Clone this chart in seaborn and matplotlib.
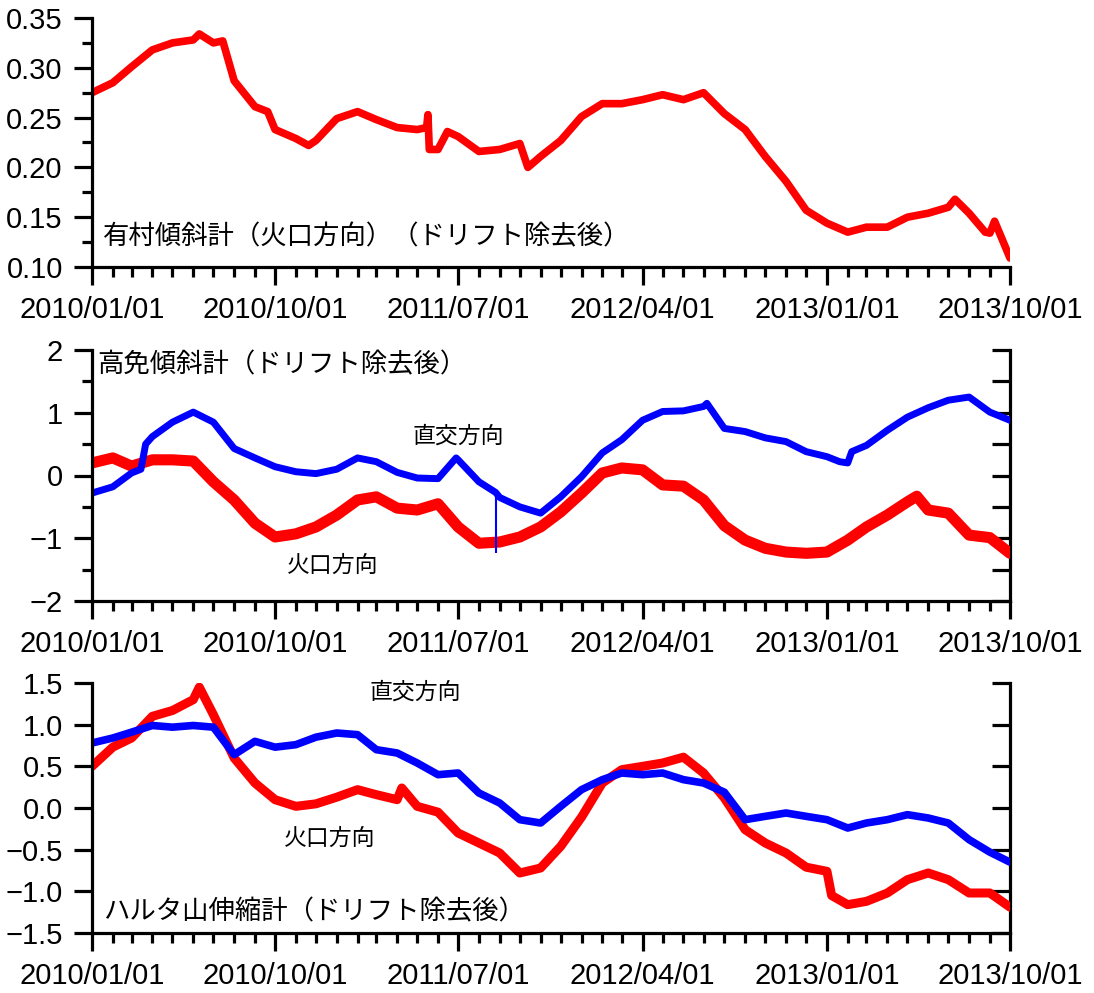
import pandas as pd
import matplotlib
matplotlib.use("Agg")
import matplotlib.pyplot as plt
import matplotlib.dates as mdates
from matplotlib.ticker import FixedLocator, NullFormatter
import seaborn as sns

# =========================
# Data (first of each month)
# =========================
months = pd.date_range("2010-01-01", "2013-10-01", freq="MS")

arimura = [0.275, 0.285, 0.301, 0.318, 0.325, 0.328, 0.325, 0.287, 0.261, 0.238,
           0.229, 0.227, 0.249, 0.256, 0.248, 0.240, 0.238, 0.218, 0.231, 0.216,
           0.218, 0.224, 0.211, 0.227, 0.251, 0.264, 0.264, 0.268, 0.273, 0.268,
           0.275, 0.254, 0.238, 0.211, 0.186, 0.157, 0.144, 0.135, 0.140, 0.140,
           0.150, 0.154, 0.160, 0.154, 0.134, 0.109]
arimura_extra_dates = ["2010-06-10", "2010-07-15", "2010-09-20", "2010-11-20", "2011-05-15",
                       "2011-05-17", "2011-05-19", "2011-06-15", "2011-10-13", "2013-07-11",
                       "2013-08-25", "2013-09-08"]
arimura_extra = [0.334, 0.327, 0.256, 0.222, 0.240, 0.253, 0.218, 0.236, 0.200, 0.168,
                 0.135, 0.146]

kome_crater = [0.20, 0.28, 0.15, 0.25, 0.25, 0.23, -0.10, -0.39, -0.76, -0.98,
               -0.93, -0.82, -0.63, -0.39, -0.34, -0.52, -0.55, -0.45, -0.82, -1.08,
               -1.06, -0.98, -0.82, -0.58, -0.28, 0.04, 0.12, 0.09, -0.15, -0.17,
               -0.39, -0.80, -1.03, -1.16, -1.22, -1.24, -1.22, -1.03, -0.82, -0.63,
               -0.42, -0.55, -0.60, -0.95, -0.99, -1.24]
kome_crater_extra_dates = ["2013-05-15"]
kome_crater_extra = [-0.33]

kome_perp = [-0.28, -0.18, 0.04, 0.62, 0.85, 1.01, 0.85, 0.43, 0.28, 0.14,
             0.06, 0.03, 0.10, 0.28, 0.22, 0.05, -0.04, -0.05, 0.25, -0.10,
             -0.35, -0.50, -0.60, -0.34, -0.02, 0.36, 0.57, 0.88, 1.02, 1.03,
             1.10, 0.75, 0.70, 0.60, 0.54, 0.38, 0.30, 0.20, 0.48, 0.72,
             0.93, 1.08, 1.20, 1.25, 1.01, 0.88]
kome_perp_extra_dates = ["2010-03-15", "2010-03-22", "2011-06-28", "2011-08-26",
                         "2012-07-06", "2013-01-20", "2013-02-07"]
kome_perp_extra = [0.10, 0.50, 0.28, -0.27, 1.15, 0.22, 0.38]
spike_date = ["2011-08-26"]
spike_low = [-1.24]
spike_top = [-0.27]

haruta_crater = [0.50, 0.73, 0.84, 1.10, 1.17, 1.30, 1.12, 0.60, 0.30, 0.10,
                 0.02, 0.05, 0.13, 0.22, 0.16, 0.10, 0.02, -0.05, -0.30, -0.42,
                 -0.54, -0.78, -0.72, -0.46, -0.11, 0.30, 0.46, 0.50, 0.54, 0.61,
                 0.42, 0.12, -0.26, -0.42, -0.54, -0.71, -0.76, -1.16, -1.12, -1.02,
                 -0.86, -0.78, -0.86, -1.02, -1.02, -1.19]
haruta_crater_extra_dates = ["2010-06-10", "2011-04-08", "2013-01-08"]
haruta_crater_extra = [1.45, 0.24, -1.05]

haruta_perp = [0.78, 0.84, 0.91, 0.99, 0.97, 0.99, 0.97, 0.64, 0.80, 0.73,
               0.76, 0.85, 0.90, 0.88, 0.70, 0.66, 0.54, 0.40, 0.42, 0.18,
               0.06, -0.14, -0.18, 0.02, 0.22, 0.34, 0.42, 0.40, 0.42, 0.34,
               0.30, 0.19, -0.14, -0.10, -0.06, -0.10, -0.14, -0.24, -0.18, -0.14,
               -0.08, -0.12, -0.18, -0.38, -0.53, -0.65]

xtick_dates = ["2010-01-01", "2010-10-01", "2011-07-01", "2012-04-01", "2013-01-01", "2013-10-01"]

p1_ticks = [0.10, 0.15, 0.20, 0.25, 0.30, 0.35]
p1_labels = ["0.10", "0.15", "0.20", "0.25", "0.30", "0.35"]
p2_ticks = [-2, -1, 0, 1, 2]
p2_labels = ["\u22122", "\u22121", "0", "1", "2"]
p3_ticks = [-1.5, -1.0, -0.5, 0.0, 0.5, 1.0, 1.5]
p3_labels = ["\u22121.5", "\u22121.0", "\u22120.5", "0.0", "0.5", "1.0", "1.5"]

titles = ["有村傾斜計（火口方向）（ドリフト除去後）", "高免傾斜計（ドリフト除去後）", "ハルタ山伸縮計（ドリフト除去後）"]


def series(vals, extra_dates=(), extra_vals=()):
    s = pd.DataFrame({"date": list(months) + list(pd.to_datetime(list(extra_dates))),
                      "value": list(vals) + list(extra_vals)})
    return s.sort_values("date")


# =========================
# Figure
# =========================
sns.set_style("ticks")
plt.rcParams["font.family"] = ["Liberation Sans", "Noto Sans CJK JP"]
plt.rcParams.update({"axes.edgecolor": "black", "xtick.color": "black", "ytick.color": "black",
                     "text.color": "black", "axes.labelcolor": "black"})
JP = ["Noto Sans CJK JP", "DejaVu Sans"]

fig = plt.figure(figsize=(10.94, 9.93), dpi=100)
W, H = 1094, 993
boxes = [(18, 267), (350, 601), (683, 933)]
axes = [fig.add_axes([92 / W, 1 - b / H, 918 / W, (b - t) / H]) for t, b in boxes]

RED, BLUE = "#ff0000", "#0000ff"

# panel 1
ax = axes[0]
sns.lineplot(data=series(arimura, arimura_extra_dates, arimura_extra), x="date", y="value",
             color=RED, lw=5.5, ax=ax)
ax.set_ylim(0.10, 0.35)
ax.set_yticks(p1_ticks, p1_labels)
ax.yaxis.set_minor_locator(FixedLocator([0.125, 0.175, 0.225, 0.275, 0.325]))

# panel 2
ax = axes[1]
sns.lineplot(data=series(kome_crater, kome_crater_extra_dates, kome_crater_extra), x="date", y="value",
             color=RED, lw=8, ax=ax)
sns.lineplot(data=series(kome_perp, kome_perp_extra_dates, kome_perp_extra), x="date", y="value",
             color=BLUE, lw=5, ax=ax)
ax.vlines(pd.to_datetime(spike_date), spike_low, spike_top, color=BLUE, lw=1.5)
ax.set_ylim(-2, 2)
ax.set_yticks(p2_ticks, p2_labels)
ax.yaxis.set_minor_locator(FixedLocator([-1.5, -0.5, 0.5, 1.5]))

# panel 3
ax = axes[2]
sns.lineplot(data=series(haruta_crater, haruta_crater_extra_dates, haruta_crater_extra), x="date",
             y="value", color=RED, lw=6.5, ax=ax)
sns.lineplot(data=series(haruta_perp), x="date", y="value", color=BLUE, lw=5.5, ax=ax)
ax.set_ylim(-1.5, 1.5)
ax.set_yticks(p3_ticks, p3_labels)

# annotations
axes[0].text(pd.Timestamp("2010-01-17"), 0.130, titles[0], family=JP, fontsize=19, va="center")
axes[1].text(pd.Timestamp("2010-01-09"), 1.76, titles[1], family=JP, fontsize=19, va="center")
axes[2].text(pd.Timestamp("2010-01-17"), -1.25, titles[2], family=JP, fontsize=19, va="center")
axes[1].text(pd.Timestamp("2011-07-01"), 0.63, "直交方向", family=JP, fontsize=16.5, ha="center", va="center")
axes[1].text(pd.Timestamp("2010-12-26"), -1.43, "火口方向", family=JP, fontsize=16.5, ha="center", va="center")
axes[2].text(pd.Timestamp("2011-04-28"), 1.39, "直交方向", family=JP, fontsize=16.5, ha="center", va="center")
axes[2].text(pd.Timestamp("2010-12-22"), -0.36, "火口方向", family=JP, fontsize=16.5, ha="center", va="center")

# axes styling
for i, ax in enumerate(axes):
    ax.set_xlim(pd.Timestamp("2010-01-01"), pd.Timestamp("2013-10-01"))
    ax.set_xticks(pd.to_datetime(xtick_dates))
    ax.xaxis.set_major_formatter(mdates.DateFormatter("%Y/%m/%d"))
    ax.xaxis.set_minor_locator(mdates.MonthLocator())
    ax.set_xlabel("")
    ax.set_ylabel("")
    ax.spines["top"].set_visible(False)
    ax.spines["right"].set_visible(False)
    for side in ["left", "bottom"]:
        ax.spines[side].set_linewidth(2.3)
        ax.spines[side].set_color("black")
    ax.tick_params(which="major", length=13, width=2.3, direction="out", labelsize=21, pad=8,
                   color="black", labelcolor="black")
    ax.tick_params(which="minor", length=7.5, width=2.3, direction="out", color="black")
    ax.set_facecolor("white")
    if i > 0:
        sec = ax.secondary_yaxis("right")
        sec.spines["right"].set_linewidth(2.3)
        sec.spines["right"].set_color("black")
        sec.set_yticks(ax.get_yticks())
        minors = list(ax.yaxis.get_minorticklocs())
        if minors:
            sec.yaxis.set_minor_locator(FixedLocator(minors))
        sec.yaxis.set_major_formatter(NullFormatter())
        sec.tick_params(which="both", direction="in", length=13, width=2.3, color="black")

fig.savefig("out.png", dpi=100, facecolor="white")
